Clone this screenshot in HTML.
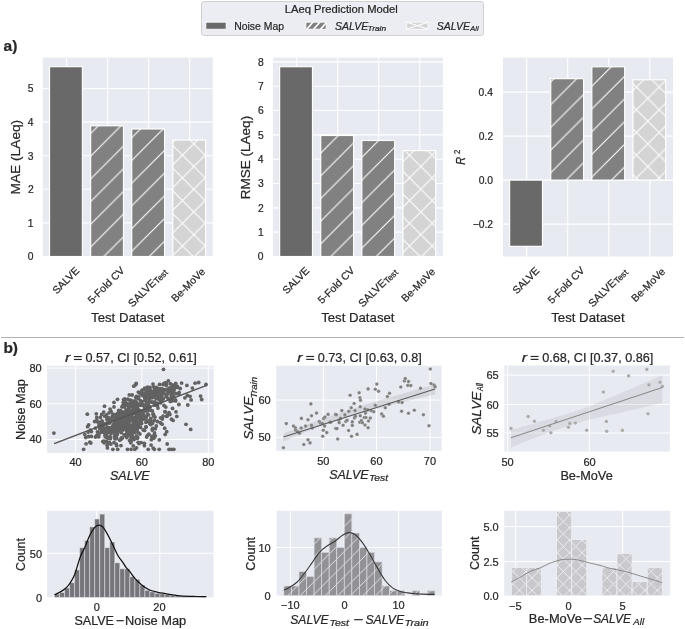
<!DOCTYPE html>
<html><head><meta charset="utf-8"><style>
html,body{margin:0;padding:0;background:#fff;}
svg{display:block;filter:blur(0.35px);}
text{font-family:"Liberation Sans",sans-serif;stroke:#2a2a2a;stroke-width:0.22px;}
</style></head><body>
<svg width="685" height="629" viewBox="0 0 685 629">
<defs><clipPath id="clipLeg2"><rect x="305.9" y="22.2" width="20.2" height="7.0"/></clipPath><pattern id="hA" patternUnits="userSpaceOnUse" width="22.7" height="22.7" x="19.8" y="0"><rect width="22.7" height="22.7" fill="#808180"/><path d="M-22.7,45.4 L45.4,-22.7 M-22.7,22.7 L22.7,-22.7 M0,45.4 L45.4,0" stroke="#fff" stroke-width="1.05"/></pattern><pattern id="hX" patternUnits="userSpaceOnUse" width="22.7" height="22.7" x="12.2" y="7.6"><rect width="22.7" height="22.7" fill="#D4D4D4"/><path d="M-22.7,45.4 L45.4,-22.7 M-22.7,22.7 L22.7,-22.7 M0,45.4 L45.4,0 M-22.7,-22.7 L45.4,45.4 M-22.7,0 L22.7,45.4 M0,-22.7 L45.4,22.7" stroke="#fff" stroke-width="1.05"/></pattern><clipPath id="cS1"><rect x="47.1" y="365.7" width="166.70000000000002" height="87.19999999999999"/></clipPath><pattern id="hB" patternUnits="userSpaceOnUse" width="12.55" height="12.55" x="4.8" y="0"><rect width="12.55" height="12.55" fill="#919196"/><path d="M-12.55,25.1 L25.1,-12.55 M-12.55,12.55 L12.55,-12.55 M0,25.1 L25.1,0" stroke="#E2E3E8" stroke-width="0.95"/></pattern><pattern id="hC" patternUnits="userSpaceOnUse" width="12.55" height="12.55" x="4.83" y="0.48"><rect width="12.55" height="12.55" fill="#C8C8CD"/><path d="M-12.55,25.1 L25.1,-12.55 M-12.55,12.55 L12.55,-12.55 M0,25.1 L25.1,0 M-12.55,-12.55 L25.1,25.1 M-12.55,0 L12.55,25.1 M0,-12.55 L25.1,12.55" stroke="#EEEFF3" stroke-width="0.95"/></pattern></defs>
<rect width="685" height="629" fill="#fff"/>
<rect x="201.5" y="1.5" width="282" height="34" rx="2.5" fill="#ECEDF2" stroke="#D0D0D0" stroke-width="1"/>
<text x="284.70" y="13.40" font-size="10.90" fill="#262626" textLength="113.05" lengthAdjust="spacingAndGlyphs">LAeq Prediction Model</text>
<rect x="205.9" y="22.2" width="20.2" height="7.0" fill="#686968" stroke="#fff" stroke-width="0.8"/>
<text x="234.16" y="29.70" font-size="10.90" fill="#262626" textLength="49.95" lengthAdjust="spacingAndGlyphs">Noise Map</text>
<rect x="305.9" y="22.2" width="20.2" height="7.0" fill="#808180" stroke="#fff" stroke-width="0.8"/>
<g clip-path="url(#clipLeg2)" stroke="#fff" stroke-width="1.6"><line x1="292.2" y1="30" x2="300.2" y2="21"/><line x1="299.1" y1="30" x2="307.1" y2="21"/><line x1="306.0" y1="30" x2="314.0" y2="21"/><line x1="312.9" y1="30" x2="320.9" y2="21"/><line x1="319.8" y1="30" x2="327.8" y2="21"/></g>
<rect x="406.8" y="22.2" width="21.2" height="7.0" fill="#D4D4D4" stroke="#fff" stroke-width="0.8"/>
<g stroke="#fff" stroke-width="1.2"><line x1="407" y1="22.3" x2="428" y2="29"/><line x1="407" y1="29" x2="428" y2="22.3"/></g>
<text x="334.99" y="29.50" font-size="11.00" font-style="italic" fill="#262626" textLength="33.25" lengthAdjust="spacingAndGlyphs">SALVE</text>
<text x="367.64" y="31.30" font-size="8.00" font-style="italic" fill="#262626" textLength="18.53" lengthAdjust="spacingAndGlyphs">Train</text>
<text x="436.69" y="29.50" font-size="11.00" font-style="italic" fill="#262626" textLength="33.25" lengthAdjust="spacingAndGlyphs">SALVE</text>
<text x="470.37" y="30.60" font-size="7.60" font-style="italic" fill="#262626" textLength="8.25" lengthAdjust="spacingAndGlyphs">All</text>
<rect x="42.8" y="57.6" width="170.00" height="198.90" fill="#E8EAF2"/>
<g stroke="#fff" stroke-width="1.1"><line x1="42.8" y1="256.50" x2="212.8" y2="256.50"/><line x1="42.8" y1="222.90" x2="212.8" y2="222.90"/><line x1="42.8" y1="189.30" x2="212.8" y2="189.30"/><line x1="42.8" y1="155.70" x2="212.8" y2="155.70"/><line x1="42.8" y1="122.10" x2="212.8" y2="122.10"/><line x1="42.8" y1="88.50" x2="212.8" y2="88.50"/><line x1="66.55" y1="57.6" x2="66.55" y2="256.5"/><line x1="107.60" y1="57.6" x2="107.60" y2="256.5"/><line x1="148.65" y1="57.6" x2="148.65" y2="256.5"/><line x1="189.70" y1="57.6" x2="189.70" y2="256.5"/></g>
<rect x="49.55" y="66.69" width="32.8" height="189.81" fill="#686968" stroke="#fff" stroke-width="1.15"/>
<rect x="90.65" y="125.80" width="32.8" height="130.70" fill="url(#hA)" stroke="#fff" stroke-width="1.15"/>
<rect x="131.75" y="128.99" width="32.8" height="127.51" fill="url(#hA)" stroke="#fff" stroke-width="1.15"/>
<rect x="172.85" y="140.08" width="32.8" height="116.42" fill="url(#hX)" stroke="#fff" stroke-width="1.15"/>
<text x="27.74" y="260.40" font-size="10.30" fill="#262626">0</text>
<text x="27.85" y="226.80" font-size="10.30" fill="#262626">1</text>
<text x="27.90" y="193.25" font-size="10.30" fill="#262626">2</text>
<text x="27.80" y="159.60" font-size="10.30" fill="#262626">3</text>
<text x="27.69" y="126.00" font-size="10.30" fill="#262626">4</text>
<text x="27.80" y="92.35" font-size="10.30" fill="#262626">5</text>
<text x="-16.41" y="3.59" font-size="10.40" fill="#262626" textLength="32.76" lengthAdjust="spacingAndGlyphs" transform="translate(65.75,280.40) rotate(-45)">SALVE</text>
<text x="-23.58" y="3.72" font-size="10.40" fill="#262626" textLength="46.82" lengthAdjust="spacingAndGlyphs" transform="translate(106.05,284.90) rotate(-45)">5-Fold CV</text>
<g transform="translate(148.05,287.60) rotate(-45)"><text x="-25.10" y="3.24" font-size="10.80" fill="#262626">SALVE</text><text x="8.92" y="4.24" font-size="8.60" fill="#262626">Test</text></g>
<text x="-21.55" y="3.54" font-size="10.40" fill="#262626" textLength="42.78" lengthAdjust="spacingAndGlyphs" transform="translate(188.25,284.85) rotate(-45)">Be-MoVe</text>
<text x="91.04" y="321.80" font-size="13.50" fill="#262626" textLength="73.37" lengthAdjust="spacingAndGlyphs">Test Dataset</text>
<rect x="272.9" y="57.6" width="170.00" height="198.90" fill="#E8EAF2"/>
<g stroke="#fff" stroke-width="1.1"><line x1="272.9" y1="256.50" x2="442.9" y2="256.50"/><line x1="272.9" y1="232.17" x2="442.9" y2="232.17"/><line x1="272.9" y1="207.84" x2="442.9" y2="207.84"/><line x1="272.9" y1="183.51" x2="442.9" y2="183.51"/><line x1="272.9" y1="159.18" x2="442.9" y2="159.18"/><line x1="272.9" y1="134.85" x2="442.9" y2="134.85"/><line x1="272.9" y1="110.52" x2="442.9" y2="110.52"/><line x1="272.9" y1="86.19" x2="442.9" y2="86.19"/><line x1="272.9" y1="61.86" x2="442.9" y2="61.86"/><line x1="296.65" y1="57.6" x2="296.65" y2="256.5"/><line x1="337.70" y1="57.6" x2="337.70" y2="256.5"/><line x1="378.75" y1="57.6" x2="378.75" y2="256.5"/><line x1="419.80" y1="57.6" x2="419.80" y2="256.5"/></g>
<rect x="279.65" y="66.73" width="32.8" height="189.77" fill="#686968" stroke="#fff" stroke-width="1.15"/>
<rect x="320.75" y="135.51" width="32.8" height="120.99" fill="url(#hA)" stroke="#fff" stroke-width="1.15"/>
<rect x="361.85" y="140.49" width="32.8" height="116.01" fill="url(#hA)" stroke="#fff" stroke-width="1.15"/>
<rect x="402.95" y="150.59" width="32.8" height="105.91" fill="url(#hX)" stroke="#fff" stroke-width="1.15"/>
<text x="257.84" y="260.40" font-size="10.30" fill="#262626">0</text>
<text x="257.95" y="236.07" font-size="10.30" fill="#262626">1</text>
<text x="258.00" y="211.79" font-size="10.30" fill="#262626">2</text>
<text x="257.90" y="187.41" font-size="10.30" fill="#262626">3</text>
<text x="257.79" y="163.08" font-size="10.30" fill="#262626">4</text>
<text x="257.90" y="138.70" font-size="10.30" fill="#262626">5</text>
<text x="257.90" y="114.42" font-size="10.30" fill="#262626">6</text>
<text x="258.00" y="90.09" font-size="10.30" fill="#262626">7</text>
<text x="257.90" y="65.76" font-size="10.30" fill="#262626">8</text>
<text x="-16.41" y="3.59" font-size="10.40" fill="#262626" textLength="32.76" lengthAdjust="spacingAndGlyphs" transform="translate(295.85,280.40) rotate(-45)">SALVE</text>
<text x="-23.58" y="3.72" font-size="10.40" fill="#262626" textLength="46.82" lengthAdjust="spacingAndGlyphs" transform="translate(336.15,284.90) rotate(-45)">5-Fold CV</text>
<g transform="translate(378.15,287.60) rotate(-45)"><text x="-25.10" y="3.24" font-size="10.80" fill="#262626">SALVE</text><text x="8.92" y="4.24" font-size="8.60" fill="#262626">Test</text></g>
<text x="-21.55" y="3.54" font-size="10.40" fill="#262626" textLength="42.78" lengthAdjust="spacingAndGlyphs" transform="translate(418.35,284.85) rotate(-45)">Be-MoVe</text>
<text x="321.14" y="321.80" font-size="13.50" fill="#262626" textLength="73.37" lengthAdjust="spacingAndGlyphs">Test Dataset</text>
<rect x="502.9" y="57.6" width="170.20" height="198.90" fill="#E8EAF2"/>
<g stroke="#fff" stroke-width="1.1"><line x1="502.9" y1="224.10" x2="673.1" y2="224.10"/><line x1="502.9" y1="180.10" x2="673.1" y2="180.10"/><line x1="502.9" y1="136.10" x2="673.1" y2="136.10"/><line x1="502.9" y1="92.10" x2="673.1" y2="92.10"/><line x1="526.65" y1="57.6" x2="526.65" y2="256.5"/><line x1="567.70" y1="57.6" x2="567.70" y2="256.5"/><line x1="608.75" y1="57.6" x2="608.75" y2="256.5"/><line x1="649.80" y1="57.6" x2="649.80" y2="256.5"/></g>
<rect x="509.65" y="180.10" width="32.8" height="66.22" fill="#686968" stroke="#fff" stroke-width="1.15"/>
<rect x="550.75" y="78.68" width="32.8" height="101.42" fill="url(#hA)" stroke="#fff" stroke-width="1.15"/>
<rect x="591.85" y="66.80" width="32.8" height="113.30" fill="url(#hA)" stroke="#fff" stroke-width="1.15"/>
<rect x="632.95" y="79.78" width="32.8" height="100.32" fill="url(#hX)" stroke="#fff" stroke-width="1.15"/>
<text x="472.77" y="228.00" font-size="10.30" fill="#262626">−0.2</text>
<text x="478.64" y="184.00" font-size="10.30" fill="#262626">0.0</text>
<text x="478.80" y="140.00" font-size="10.30" fill="#262626">0.2</text>
<text x="478.59" y="96.00" font-size="10.30" fill="#262626">0.4</text>
<text x="-16.41" y="3.59" font-size="10.40" fill="#262626" textLength="32.76" lengthAdjust="spacingAndGlyphs" transform="translate(525.85,280.40) rotate(-45)">SALVE</text>
<text x="-23.58" y="3.72" font-size="10.40" fill="#262626" textLength="46.82" lengthAdjust="spacingAndGlyphs" transform="translate(566.15,284.90) rotate(-45)">5-Fold CV</text>
<g transform="translate(608.15,287.60) rotate(-45)"><text x="-25.10" y="3.24" font-size="10.80" fill="#262626">SALVE</text><text x="8.92" y="4.24" font-size="8.60" fill="#262626">Test</text></g>
<text x="-21.55" y="3.54" font-size="10.40" fill="#262626" textLength="42.78" lengthAdjust="spacingAndGlyphs" transform="translate(648.35,284.85) rotate(-45)">Be-MoVe</text>
<text x="551.24" y="321.80" font-size="13.50" fill="#262626" textLength="73.37" lengthAdjust="spacingAndGlyphs">Test Dataset</text>
<text x="-37.44" y="3.53" font-size="13.70" fill="#262626" textLength="74.62" lengthAdjust="spacingAndGlyphs" transform="translate(16.90,157.00) rotate(-90)">MAE (LAeq)</text>
<text x="-41.75" y="3.48" font-size="13.50" fill="#262626" textLength="83.28" lengthAdjust="spacingAndGlyphs" transform="translate(247.00,157.40) rotate(-90)">RMSE (LAeq)</text>
<g transform="rotate(-90)"><text x="-164.63" y="465.10" font-size="12.40" font-style="italic" fill="#262626" textLength="7.88" lengthAdjust="spacingAndGlyphs">R</text><text x="-154.08" y="459.70" font-size="9.00" fill="#262626" textLength="4.28" lengthAdjust="spacingAndGlyphs">2</text></g>
<text x="3.54" y="51.10" font-size="15.50" font-weight="bold" fill="#262626">a)</text>
<line x1="1" y1="337.5" x2="684" y2="337.5" stroke="#b2b2b2" stroke-width="1.1"/>
<text x="3.39" y="352.90" font-size="15.50" font-weight="bold" fill="#262626">b)</text>
<rect x="47.1" y="365.7" width="166.70" height="87.20" fill="#E8EAF2"/>
<g stroke="#fff" stroke-width="1"><line x1="75.50" y1="365.7" x2="75.50" y2="452.9"/><line x1="141.90" y1="365.7" x2="141.90" y2="452.9"/><line x1="208.30" y1="365.7" x2="208.30" y2="452.9"/><line x1="47.1" y1="439.50" x2="213.8" y2="439.50"/><line x1="47.1" y1="403.80" x2="213.8" y2="403.80"/><line x1="47.1" y1="368.10" x2="213.8" y2="368.10"/></g>
<g clip-path="url(#cS1)" fill="#626262"><circle cx="112.2" cy="416.6" r="1.9"/><circle cx="117.4" cy="433.9" r="1.9"/><circle cx="133.3" cy="418.2" r="1.9"/><circle cx="119.9" cy="425.9" r="1.9"/><circle cx="134.8" cy="432.6" r="1.9"/><circle cx="110.0" cy="436.4" r="1.9"/><circle cx="119.5" cy="427.3" r="1.9"/><circle cx="124.9" cy="414.7" r="1.9"/><circle cx="118.7" cy="429.0" r="1.9"/><circle cx="120.5" cy="416.4" r="1.9"/><circle cx="148.5" cy="414.9" r="1.9"/><circle cx="127.5" cy="425.8" r="1.9"/><circle cx="152.8" cy="402.2" r="1.9"/><circle cx="141.3" cy="418.2" r="1.9"/><circle cx="140.4" cy="404.3" r="1.9"/><circle cx="118.2" cy="429.8" r="1.9"/><circle cx="129.4" cy="411.1" r="1.9"/><circle cx="120.7" cy="428.1" r="1.9"/><circle cx="109.9" cy="422.7" r="1.9"/><circle cx="135.0" cy="419.9" r="1.9"/><circle cx="119.4" cy="422.8" r="1.9"/><circle cx="125.9" cy="434.7" r="1.9"/><circle cx="140.0" cy="415.3" r="1.9"/><circle cx="142.1" cy="401.6" r="1.9"/><circle cx="126.7" cy="427.3" r="1.9"/><circle cx="103.3" cy="432.0" r="1.9"/><circle cx="115.1" cy="425.3" r="1.9"/><circle cx="127.8" cy="433.4" r="1.9"/><circle cx="113.3" cy="424.6" r="1.9"/><circle cx="140.4" cy="400.6" r="1.9"/><circle cx="120.6" cy="415.2" r="1.9"/><circle cx="130.0" cy="415.4" r="1.9"/><circle cx="129.9" cy="425.8" r="1.9"/><circle cx="120.1" cy="426.4" r="1.9"/><circle cx="125.1" cy="426.4" r="1.9"/><circle cx="108.4" cy="429.5" r="1.9"/><circle cx="121.2" cy="416.3" r="1.9"/><circle cx="95.5" cy="428.1" r="1.9"/><circle cx="133.3" cy="401.2" r="1.9"/><circle cx="121.4" cy="424.9" r="1.9"/><circle cx="124.0" cy="406.0" r="1.9"/><circle cx="133.1" cy="405.3" r="1.9"/><circle cx="126.8" cy="437.7" r="1.9"/><circle cx="140.7" cy="420.3" r="1.9"/><circle cx="108.6" cy="418.3" r="1.9"/><circle cx="121.0" cy="445.6" r="1.9"/><circle cx="124.7" cy="412.0" r="1.9"/><circle cx="105.0" cy="435.1" r="1.9"/><circle cx="130.3" cy="411.3" r="1.9"/><circle cx="127.4" cy="420.2" r="1.9"/><circle cx="129.3" cy="411.2" r="1.9"/><circle cx="123.0" cy="423.3" r="1.9"/><circle cx="139.6" cy="421.0" r="1.9"/><circle cx="119.1" cy="411.6" r="1.9"/><circle cx="140.7" cy="421.8" r="1.9"/><circle cx="106.5" cy="432.3" r="1.9"/><circle cx="102.9" cy="441.5" r="1.9"/><circle cx="143.6" cy="419.0" r="1.9"/><circle cx="87.6" cy="426.7" r="1.9"/><circle cx="139.8" cy="413.1" r="1.9"/><circle cx="126.9" cy="428.3" r="1.9"/><circle cx="131.4" cy="418.0" r="1.9"/><circle cx="113.1" cy="418.9" r="1.9"/><circle cx="116.5" cy="417.6" r="1.9"/><circle cx="126.6" cy="414.6" r="1.9"/><circle cx="161.0" cy="401.6" r="1.9"/><circle cx="122.6" cy="429.7" r="1.9"/><circle cx="114.2" cy="424.4" r="1.9"/><circle cx="104.0" cy="431.4" r="1.9"/><circle cx="115.8" cy="430.7" r="1.9"/><circle cx="139.4" cy="414.6" r="1.9"/><circle cx="140.9" cy="417.9" r="1.9"/><circle cx="131.8" cy="414.4" r="1.9"/><circle cx="125.9" cy="423.4" r="1.9"/><circle cx="145.9" cy="400.1" r="1.9"/><circle cx="112.8" cy="419.3" r="1.9"/><circle cx="125.3" cy="427.6" r="1.9"/><circle cx="114.0" cy="406.9" r="1.9"/><circle cx="100.4" cy="422.8" r="1.9"/><circle cx="110.9" cy="444.1" r="1.9"/><circle cx="117.0" cy="422.6" r="1.9"/><circle cx="114.4" cy="424.2" r="1.9"/><circle cx="121.6" cy="421.5" r="1.9"/><circle cx="142.4" cy="404.7" r="1.9"/><circle cx="131.9" cy="411.8" r="1.9"/><circle cx="124.4" cy="413.4" r="1.9"/><circle cx="113.9" cy="427.5" r="1.9"/><circle cx="121.2" cy="422.9" r="1.9"/><circle cx="131.5" cy="415.7" r="1.9"/><circle cx="126.8" cy="413.7" r="1.9"/><circle cx="119.7" cy="418.4" r="1.9"/><circle cx="130.8" cy="403.7" r="1.9"/><circle cx="140.1" cy="413.9" r="1.9"/><circle cx="132.6" cy="419.3" r="1.9"/><circle cx="127.6" cy="424.4" r="1.9"/><circle cx="144.3" cy="411.1" r="1.9"/><circle cx="111.3" cy="433.3" r="1.9"/><circle cx="137.3" cy="407.7" r="1.9"/><circle cx="124.7" cy="398.9" r="1.9"/><circle cx="136.6" cy="402.8" r="1.9"/><circle cx="133.2" cy="429.4" r="1.9"/><circle cx="112.9" cy="420.3" r="1.9"/><circle cx="118.0" cy="424.0" r="1.9"/><circle cx="114.0" cy="429.3" r="1.9"/><circle cx="123.0" cy="423.7" r="1.9"/><circle cx="127.5" cy="429.0" r="1.9"/><circle cx="121.8" cy="429.4" r="1.9"/><circle cx="133.2" cy="407.6" r="1.9"/><circle cx="98.8" cy="434.8" r="1.9"/><circle cx="124.1" cy="412.6" r="1.9"/><circle cx="131.2" cy="415.5" r="1.9"/><circle cx="146.0" cy="427.0" r="1.9"/><circle cx="132.9" cy="424.6" r="1.9"/><circle cx="146.3" cy="416.6" r="1.9"/><circle cx="149.8" cy="406.7" r="1.9"/><circle cx="101.2" cy="423.9" r="1.9"/><circle cx="115.4" cy="416.7" r="1.9"/><circle cx="145.9" cy="422.3" r="1.9"/><circle cx="119.6" cy="420.2" r="1.9"/><circle cx="126.9" cy="414.6" r="1.9"/><circle cx="127.4" cy="428.1" r="1.9"/><circle cx="142.7" cy="405.2" r="1.9"/><circle cx="130.8" cy="418.6" r="1.9"/><circle cx="99.0" cy="425.4" r="1.9"/><circle cx="123.1" cy="413.7" r="1.9"/><circle cx="108.9" cy="427.7" r="1.9"/><circle cx="118.1" cy="431.8" r="1.9"/><circle cx="98.7" cy="422.1" r="1.9"/><circle cx="122.8" cy="429.9" r="1.9"/><circle cx="107.2" cy="422.8" r="1.9"/><circle cx="126.7" cy="425.2" r="1.9"/><circle cx="121.0" cy="439.2" r="1.9"/><circle cx="120.2" cy="425.1" r="1.9"/><circle cx="126.3" cy="404.2" r="1.9"/><circle cx="132.6" cy="426.6" r="1.9"/><circle cx="123.1" cy="427.3" r="1.9"/><circle cx="151.4" cy="402.0" r="1.9"/><circle cx="116.6" cy="420.9" r="1.9"/><circle cx="123.2" cy="421.5" r="1.9"/><circle cx="122.4" cy="425.3" r="1.9"/><circle cx="111.7" cy="431.7" r="1.9"/><circle cx="117.2" cy="421.5" r="1.9"/><circle cx="142.9" cy="410.8" r="1.9"/><circle cx="106.3" cy="434.8" r="1.9"/><circle cx="125.0" cy="416.0" r="1.9"/><circle cx="127.7" cy="414.1" r="1.9"/><circle cx="129.6" cy="412.2" r="1.9"/><circle cx="129.2" cy="399.9" r="1.9"/><circle cx="145.4" cy="418.8" r="1.9"/><circle cx="131.1" cy="418.5" r="1.9"/><circle cx="134.4" cy="424.5" r="1.9"/><circle cx="87.3" cy="414.2" r="1.9"/><circle cx="135.4" cy="405.7" r="1.9"/><circle cx="126.7" cy="416.1" r="1.9"/><circle cx="154.8" cy="404.2" r="1.9"/><circle cx="120.9" cy="424.7" r="1.9"/><circle cx="114.9" cy="438.7" r="1.9"/><circle cx="96.3" cy="413.8" r="1.9"/><circle cx="141.7" cy="414.4" r="1.9"/><circle cx="126.1" cy="419.6" r="1.9"/><circle cx="115.3" cy="428.3" r="1.9"/><circle cx="131.2" cy="411.5" r="1.9"/><circle cx="86.1" cy="443.8" r="1.9"/><circle cx="155.4" cy="391.4" r="1.9"/><circle cx="128.5" cy="409.1" r="1.9"/><circle cx="109.0" cy="412.9" r="1.9"/><circle cx="107.3" cy="427.1" r="1.9"/><circle cx="123.7" cy="421.9" r="1.9"/><circle cx="109.7" cy="419.9" r="1.9"/><circle cx="123.0" cy="426.4" r="1.9"/><circle cx="110.3" cy="432.6" r="1.9"/><circle cx="133.5" cy="421.2" r="1.9"/><circle cx="137.1" cy="415.7" r="1.9"/><circle cx="144.7" cy="388.2" r="1.9"/><circle cx="121.4" cy="426.3" r="1.9"/><circle cx="110.4" cy="429.5" r="1.9"/><circle cx="144.6" cy="430.4" r="1.9"/><circle cx="122.7" cy="416.0" r="1.9"/><circle cx="91.4" cy="431.6" r="1.9"/><circle cx="121.4" cy="437.8" r="1.9"/><circle cx="142.7" cy="395.5" r="1.9"/><circle cx="116.0" cy="417.6" r="1.9"/><circle cx="124.6" cy="418.0" r="1.9"/><circle cx="136.6" cy="403.1" r="1.9"/><circle cx="126.6" cy="414.3" r="1.9"/><circle cx="121.6" cy="424.9" r="1.9"/><circle cx="122.1" cy="423.2" r="1.9"/><circle cx="112.8" cy="426.4" r="1.9"/><circle cx="136.5" cy="415.8" r="1.9"/><circle cx="108.2" cy="438.2" r="1.9"/><circle cx="111.4" cy="429.1" r="1.9"/><circle cx="138.1" cy="416.0" r="1.9"/><circle cx="121.7" cy="420.4" r="1.9"/><circle cx="130.8" cy="429.6" r="1.9"/><circle cx="132.3" cy="414.0" r="1.9"/><circle cx="130.8" cy="442.8" r="1.9"/><circle cx="125.8" cy="425.9" r="1.9"/><circle cx="125.4" cy="425.7" r="1.9"/><circle cx="106.9" cy="419.4" r="1.9"/><circle cx="117.6" cy="422.4" r="1.9"/><circle cx="128.4" cy="425.8" r="1.9"/><circle cx="121.6" cy="426.1" r="1.9"/><circle cx="134.1" cy="411.6" r="1.9"/><circle cx="120.6" cy="415.5" r="1.9"/><circle cx="130.7" cy="420.8" r="1.9"/><circle cx="101.0" cy="432.3" r="1.9"/><circle cx="106.5" cy="431.4" r="1.9"/><circle cx="130.3" cy="419.9" r="1.9"/><circle cx="119.3" cy="414.4" r="1.9"/><circle cx="138.0" cy="425.0" r="1.9"/><circle cx="138.9" cy="423.3" r="1.9"/><circle cx="134.8" cy="424.8" r="1.9"/><circle cx="137.3" cy="406.4" r="1.9"/><circle cx="141.6" cy="423.5" r="1.9"/><circle cx="97.4" cy="421.8" r="1.9"/><circle cx="123.6" cy="399.6" r="1.9"/><circle cx="137.0" cy="414.1" r="1.9"/><circle cx="140.6" cy="421.9" r="1.9"/><circle cx="107.2" cy="432.0" r="1.9"/><circle cx="135.7" cy="412.8" r="1.9"/><circle cx="144.2" cy="405.1" r="1.9"/><circle cx="131.6" cy="434.2" r="1.9"/><circle cx="128.4" cy="414.9" r="1.9"/><circle cx="101.8" cy="427.1" r="1.9"/><circle cx="136.9" cy="417.1" r="1.9"/><circle cx="124.0" cy="425.5" r="1.9"/><circle cx="118.4" cy="413.7" r="1.9"/><circle cx="105.3" cy="436.7" r="1.9"/><circle cx="122.0" cy="416.3" r="1.9"/><circle cx="145.0" cy="400.4" r="1.9"/><circle cx="114.0" cy="402.4" r="1.9"/><circle cx="116.5" cy="426.9" r="1.9"/><circle cx="150.8" cy="424.6" r="1.9"/><circle cx="102.7" cy="422.9" r="1.9"/><circle cx="126.5" cy="410.5" r="1.9"/><circle cx="132.3" cy="431.5" r="1.9"/><circle cx="103.0" cy="425.9" r="1.9"/><circle cx="123.5" cy="422.4" r="1.9"/><circle cx="131.5" cy="432.2" r="1.9"/><circle cx="114.5" cy="418.0" r="1.9"/><circle cx="128.9" cy="404.3" r="1.9"/><circle cx="149.1" cy="421.1" r="1.9"/><circle cx="135.5" cy="421.4" r="1.9"/><circle cx="132.9" cy="426.3" r="1.9"/><circle cx="121.3" cy="432.7" r="1.9"/><circle cx="127.2" cy="425.2" r="1.9"/><circle cx="117.5" cy="413.3" r="1.9"/><circle cx="126.8" cy="423.2" r="1.9"/><circle cx="127.4" cy="403.8" r="1.9"/><circle cx="120.8" cy="428.3" r="1.9"/><circle cx="132.4" cy="425.2" r="1.9"/><circle cx="143.5" cy="411.6" r="1.9"/><circle cx="118.9" cy="422.7" r="1.9"/><circle cx="126.1" cy="410.2" r="1.9"/><circle cx="115.6" cy="427.5" r="1.9"/><circle cx="117.2" cy="431.4" r="1.9"/><circle cx="122.1" cy="417.4" r="1.9"/><circle cx="118.2" cy="417.4" r="1.9"/><circle cx="125.0" cy="403.0" r="1.9"/><circle cx="134.9" cy="412.2" r="1.9"/><circle cx="134.0" cy="404.0" r="1.9"/><circle cx="102.1" cy="430.2" r="1.9"/><circle cx="131.2" cy="432.7" r="1.9"/><circle cx="137.7" cy="413.0" r="1.9"/><circle cx="124.5" cy="407.1" r="1.9"/><circle cx="123.6" cy="421.8" r="1.9"/><circle cx="129.1" cy="427.5" r="1.9"/><circle cx="142.9" cy="412.8" r="1.9"/><circle cx="117.0" cy="424.1" r="1.9"/><circle cx="109.2" cy="422.9" r="1.9"/><circle cx="144.6" cy="407.3" r="1.9"/><circle cx="136.4" cy="425.0" r="1.9"/><circle cx="121.3" cy="411.6" r="1.9"/><circle cx="103.8" cy="428.4" r="1.9"/><circle cx="126.8" cy="420.9" r="1.9"/><circle cx="117.6" cy="432.1" r="1.9"/><circle cx="109.4" cy="419.8" r="1.9"/><circle cx="134.8" cy="417.7" r="1.9"/><circle cx="119.8" cy="418.2" r="1.9"/><circle cx="118.8" cy="424.4" r="1.9"/><circle cx="134.5" cy="429.9" r="1.9"/><circle cx="132.7" cy="410.5" r="1.9"/><circle cx="147.4" cy="413.9" r="1.9"/><circle cx="146.4" cy="409.8" r="1.9"/><circle cx="136.7" cy="420.8" r="1.9"/><circle cx="107.0" cy="417.7" r="1.9"/><circle cx="114.9" cy="414.9" r="1.9"/><circle cx="132.8" cy="425.9" r="1.9"/><circle cx="137.1" cy="419.9" r="1.9"/><circle cx="128.1" cy="430.9" r="1.9"/><circle cx="106.2" cy="432.0" r="1.9"/><circle cx="138.9" cy="396.8" r="1.9"/><circle cx="116.6" cy="438.1" r="1.9"/><circle cx="131.9" cy="434.9" r="1.9"/><circle cx="138.2" cy="427.0" r="1.9"/><circle cx="137.0" cy="429.7" r="1.9"/><circle cx="148.9" cy="391.5" r="1.9"/><circle cx="107.2" cy="445.2" r="1.9"/><circle cx="115.7" cy="428.2" r="1.9"/><circle cx="122.9" cy="414.9" r="1.9"/><circle cx="119.8" cy="440.2" r="1.9"/><circle cx="116.2" cy="424.8" r="1.9"/><circle cx="125.0" cy="400.7" r="1.9"/><circle cx="114.0" cy="442.6" r="1.9"/><circle cx="106.8" cy="437.7" r="1.9"/><circle cx="112.9" cy="414.1" r="1.9"/><circle cx="119.9" cy="421.4" r="1.9"/><circle cx="97.6" cy="432.1" r="1.9"/><circle cx="129.1" cy="432.9" r="1.9"/><circle cx="131.1" cy="400.5" r="1.9"/><circle cx="133.5" cy="409.9" r="1.9"/><circle cx="138.1" cy="409.2" r="1.9"/><circle cx="123.3" cy="402.2" r="1.9"/><circle cx="137.0" cy="409.6" r="1.9"/><circle cx="116.0" cy="414.7" r="1.9"/><circle cx="140.3" cy="405.2" r="1.9"/><circle cx="122.5" cy="416.3" r="1.9"/><circle cx="124.7" cy="426.0" r="1.9"/><circle cx="126.3" cy="423.4" r="1.9"/><circle cx="121.4" cy="425.0" r="1.9"/><circle cx="132.3" cy="413.1" r="1.9"/><circle cx="100.4" cy="417.5" r="1.9"/><circle cx="127.5" cy="413.9" r="1.9"/><circle cx="129.6" cy="440.6" r="1.9"/><circle cx="154.4" cy="405.0" r="1.9"/><circle cx="103.7" cy="412.1" r="1.9"/><circle cx="110.0" cy="420.7" r="1.9"/><circle cx="150.6" cy="424.2" r="1.9"/><circle cx="139.7" cy="393.1" r="1.9"/><circle cx="135.5" cy="425.3" r="1.9"/><circle cx="128.1" cy="435.6" r="1.9"/><circle cx="100.0" cy="427.7" r="1.9"/><circle cx="143.6" cy="414.9" r="1.9"/><circle cx="126.8" cy="431.6" r="1.9"/><circle cx="127.5" cy="432.0" r="1.9"/><circle cx="116.1" cy="428.0" r="1.9"/><circle cx="138.1" cy="417.8" r="1.9"/><circle cx="140.5" cy="427.4" r="1.9"/><circle cx="131.9" cy="418.1" r="1.9"/><circle cx="130.0" cy="430.3" r="1.9"/><circle cx="110.5" cy="438.5" r="1.9"/><circle cx="124.1" cy="404.3" r="1.9"/><circle cx="109.8" cy="437.6" r="1.9"/><circle cx="134.4" cy="410.6" r="1.9"/><circle cx="135.4" cy="413.6" r="1.9"/><circle cx="105.5" cy="435.0" r="1.9"/><circle cx="120.6" cy="420.4" r="1.9"/><circle cx="118.0" cy="417.0" r="1.9"/><circle cx="119.6" cy="430.0" r="1.9"/><circle cx="101.7" cy="414.4" r="1.9"/><circle cx="122.7" cy="424.7" r="1.9"/><circle cx="104.0" cy="441.1" r="1.9"/><circle cx="130.4" cy="406.7" r="1.9"/><circle cx="139.3" cy="411.9" r="1.9"/><circle cx="123.1" cy="423.6" r="1.9"/><circle cx="138.4" cy="413.4" r="1.9"/><circle cx="120.6" cy="410.6" r="1.9"/><circle cx="138.1" cy="413.9" r="1.9"/><circle cx="109.4" cy="442.5" r="1.9"/><circle cx="97.6" cy="431.8" r="1.9"/><circle cx="140.1" cy="422.1" r="1.9"/><circle cx="114.3" cy="422.7" r="1.9"/><circle cx="114.6" cy="429.7" r="1.9"/><circle cx="99.8" cy="428.6" r="1.9"/><circle cx="122.9" cy="405.1" r="1.9"/><circle cx="128.8" cy="423.2" r="1.9"/><circle cx="111.1" cy="411.5" r="1.9"/><circle cx="131.8" cy="434.9" r="1.9"/><circle cx="125.7" cy="421.1" r="1.9"/><circle cx="131.9" cy="419.4" r="1.9"/><circle cx="132.3" cy="402.4" r="1.9"/><circle cx="138.5" cy="411.1" r="1.9"/><circle cx="138.3" cy="415.6" r="1.9"/><circle cx="114.0" cy="426.5" r="1.9"/><circle cx="141.1" cy="415.4" r="1.9"/><circle cx="121.1" cy="412.4" r="1.9"/><circle cx="121.8" cy="420.5" r="1.9"/><circle cx="131.1" cy="417.2" r="1.9"/><circle cx="140.3" cy="427.1" r="1.9"/><circle cx="116.0" cy="438.7" r="1.9"/><circle cx="118.7" cy="410.4" r="1.9"/><circle cx="122.6" cy="422.1" r="1.9"/><circle cx="145.9" cy="418.0" r="1.9"/><circle cx="112.2" cy="418.6" r="1.9"/><circle cx="121.9" cy="406.9" r="1.9"/><circle cx="143.8" cy="410.2" r="1.9"/><circle cx="120.1" cy="425.1" r="1.9"/><circle cx="125.1" cy="429.0" r="1.9"/><circle cx="153.4" cy="414.2" r="1.9"/><circle cx="147.8" cy="410.3" r="1.9"/><circle cx="137.2" cy="404.2" r="1.9"/><circle cx="150.7" cy="418.3" r="1.9"/><circle cx="107.4" cy="447.9" r="1.9"/><circle cx="126.7" cy="403.5" r="1.9"/><circle cx="124.0" cy="435.0" r="1.9"/><circle cx="149.9" cy="407.3" r="1.9"/><circle cx="116.5" cy="432.4" r="1.9"/><circle cx="133.9" cy="411.6" r="1.9"/><circle cx="125.8" cy="436.1" r="1.9"/><circle cx="142.2" cy="419.6" r="1.9"/><circle cx="85.8" cy="437.5" r="1.9"/><circle cx="116.7" cy="430.1" r="1.9"/><circle cx="138.1" cy="432.4" r="1.9"/><circle cx="134.9" cy="426.3" r="1.9"/><circle cx="145.6" cy="408.0" r="1.9"/><circle cx="123.6" cy="414.7" r="1.9"/><circle cx="115.6" cy="426.4" r="1.9"/><circle cx="128.8" cy="408.3" r="1.9"/><circle cx="115.5" cy="415.4" r="1.9"/><circle cx="160.6" cy="417.8" r="1.9"/><circle cx="110.1" cy="409.1" r="1.9"/><circle cx="122.3" cy="425.3" r="1.9"/><circle cx="111.5" cy="427.7" r="1.9"/><circle cx="156.1" cy="398.6" r="1.9"/><circle cx="156.3" cy="393.4" r="1.9"/><circle cx="173.6" cy="395.9" r="1.9"/><circle cx="150.6" cy="390.3" r="1.9"/><circle cx="147.3" cy="395.0" r="1.9"/><circle cx="135.7" cy="384.7" r="1.9"/><circle cx="148.6" cy="390.5" r="1.9"/><circle cx="133.9" cy="403.6" r="1.9"/><circle cx="148.5" cy="390.6" r="1.9"/><circle cx="135.6" cy="401.0" r="1.9"/><circle cx="153.4" cy="395.4" r="1.9"/><circle cx="166.3" cy="383.7" r="1.9"/><circle cx="172.6" cy="400.6" r="1.9"/><circle cx="171.3" cy="401.1" r="1.9"/><circle cx="170.8" cy="388.8" r="1.9"/><circle cx="163.0" cy="384.5" r="1.9"/><circle cx="174.9" cy="385.4" r="1.9"/><circle cx="142.1" cy="390.1" r="1.9"/><circle cx="145.4" cy="397.6" r="1.9"/><circle cx="157.7" cy="394.7" r="1.9"/><circle cx="148.4" cy="402.7" r="1.9"/><circle cx="152.5" cy="397.0" r="1.9"/><circle cx="157.0" cy="396.4" r="1.9"/><circle cx="136.0" cy="407.7" r="1.9"/><circle cx="153.4" cy="394.0" r="1.9"/><circle cx="147.9" cy="395.0" r="1.9"/><circle cx="146.7" cy="391.6" r="1.9"/><circle cx="176.9" cy="386.4" r="1.9"/><circle cx="172.1" cy="386.7" r="1.9"/><circle cx="179.1" cy="392.4" r="1.9"/><circle cx="150.1" cy="387.3" r="1.9"/><circle cx="149.2" cy="395.5" r="1.9"/><circle cx="146.9" cy="405.3" r="1.9"/><circle cx="186.9" cy="385.4" r="1.9"/><circle cx="153.8" cy="387.0" r="1.9"/><circle cx="140.2" cy="410.8" r="1.9"/><circle cx="117.5" cy="399.3" r="1.9"/><circle cx="145.5" cy="396.5" r="1.9"/><circle cx="127.7" cy="405.8" r="1.9"/><circle cx="163.2" cy="391.0" r="1.9"/><circle cx="172.2" cy="385.0" r="1.9"/><circle cx="157.5" cy="391.9" r="1.9"/><circle cx="160.5" cy="400.6" r="1.9"/><circle cx="148.4" cy="405.2" r="1.9"/><circle cx="157.4" cy="405.7" r="1.9"/><circle cx="158.9" cy="399.6" r="1.9"/><circle cx="161.9" cy="397.2" r="1.9"/><circle cx="192.4" cy="388.1" r="1.9"/><circle cx="153.4" cy="391.5" r="1.9"/><circle cx="190.0" cy="396.3" r="1.9"/><circle cx="170.4" cy="390.6" r="1.9"/><circle cx="171.2" cy="394.5" r="1.9"/><circle cx="141.5" cy="393.9" r="1.9"/><circle cx="155.0" cy="402.0" r="1.9"/><circle cx="158.5" cy="395.3" r="1.9"/><circle cx="170.3" cy="383.7" r="1.9"/><circle cx="160.2" cy="396.6" r="1.9"/><circle cx="135.8" cy="397.6" r="1.9"/><circle cx="139.9" cy="392.8" r="1.9"/><circle cx="157.4" cy="403.4" r="1.9"/><circle cx="156.6" cy="387.5" r="1.9"/><circle cx="167.5" cy="390.0" r="1.9"/><circle cx="144.1" cy="389.4" r="1.9"/><circle cx="136.4" cy="396.4" r="1.9"/><circle cx="154.7" cy="388.9" r="1.9"/><circle cx="152.7" cy="397.4" r="1.9"/><circle cx="138.3" cy="398.6" r="1.9"/><circle cx="159.5" cy="384.4" r="1.9"/><circle cx="157.6" cy="390.0" r="1.9"/><circle cx="177.3" cy="386.4" r="1.9"/><circle cx="176.2" cy="393.7" r="1.9"/><circle cx="168.3" cy="380.8" r="1.9"/><circle cx="158.6" cy="392.1" r="1.9"/><circle cx="145.4" cy="400.1" r="1.9"/><circle cx="160.6" cy="402.8" r="1.9"/><circle cx="158.5" cy="396.9" r="1.9"/><circle cx="151.0" cy="395.7" r="1.9"/><circle cx="187.3" cy="395.5" r="1.9"/><circle cx="166.2" cy="385.5" r="1.9"/><circle cx="150.5" cy="394.3" r="1.9"/><circle cx="200.6" cy="396.1" r="1.9"/><circle cx="168.2" cy="392.4" r="1.9"/><circle cx="163.6" cy="389.3" r="1.9"/><circle cx="168.1" cy="398.5" r="1.9"/><circle cx="168.4" cy="388.9" r="1.9"/><circle cx="158.0" cy="394.7" r="1.9"/><circle cx="132.0" cy="406.6" r="1.9"/><circle cx="163.3" cy="399.1" r="1.9"/><circle cx="159.5" cy="389.8" r="1.9"/><circle cx="152.4" cy="397.6" r="1.9"/><circle cx="153.2" cy="395.7" r="1.9"/><circle cx="201.7" cy="399.5" r="1.9"/><circle cx="124.5" cy="401.8" r="1.9"/><circle cx="170.3" cy="401.6" r="1.9"/><circle cx="165.6" cy="383.2" r="1.9"/><circle cx="195.1" cy="383.2" r="1.9"/><circle cx="146.8" cy="397.7" r="1.9"/><circle cx="150.0" cy="398.4" r="1.9"/><circle cx="135.4" cy="410.7" r="1.9"/><circle cx="173.6" cy="385.9" r="1.9"/><circle cx="141.1" cy="401.4" r="1.9"/><circle cx="148.9" cy="401.7" r="1.9"/><circle cx="164.2" cy="383.3" r="1.9"/><circle cx="129.3" cy="394.9" r="1.9"/><circle cx="171.3" cy="397.0" r="1.9"/><circle cx="174.4" cy="389.1" r="1.9"/><circle cx="148.0" cy="394.6" r="1.9"/><circle cx="175.0" cy="385.9" r="1.9"/><circle cx="157.7" cy="393.7" r="1.9"/><circle cx="160.1" cy="394.8" r="1.9"/><circle cx="150.3" cy="396.4" r="1.9"/><circle cx="160.1" cy="398.3" r="1.9"/><circle cx="154.4" cy="396.5" r="1.9"/><circle cx="181.6" cy="383.1" r="1.9"/><circle cx="155.9" cy="388.4" r="1.9"/><circle cx="161.1" cy="393.6" r="1.9"/><circle cx="156.0" cy="395.1" r="1.9"/><circle cx="175.5" cy="399.9" r="1.9"/><circle cx="145.8" cy="410.4" r="1.9"/><circle cx="158.6" cy="389.3" r="1.9"/><circle cx="150.2" cy="393.3" r="1.9"/><circle cx="140.9" cy="392.1" r="1.9"/><circle cx="136.2" cy="383.5" r="1.9"/><circle cx="169.6" cy="387.9" r="1.9"/><circle cx="166.5" cy="394.7" r="1.9"/><circle cx="145.6" cy="388.8" r="1.9"/><circle cx="171.8" cy="393.7" r="1.9"/><circle cx="146.0" cy="395.1" r="1.9"/><circle cx="127.7" cy="399.1" r="1.9"/><circle cx="157.8" cy="396.6" r="1.9"/><circle cx="157.0" cy="395.9" r="1.9"/><circle cx="175.4" cy="387.1" r="1.9"/><circle cx="162.2" cy="394.2" r="1.9"/><circle cx="153.0" cy="384.1" r="1.9"/><circle cx="143.9" cy="393.2" r="1.9"/><circle cx="172.6" cy="395.6" r="1.9"/><circle cx="160.4" cy="391.4" r="1.9"/><circle cx="164.0" cy="393.1" r="1.9"/><circle cx="144.7" cy="397.4" r="1.9"/><circle cx="173.4" cy="391.0" r="1.9"/><circle cx="165.5" cy="389.9" r="1.9"/><circle cx="174.1" cy="388.9" r="1.9"/><circle cx="149.7" cy="397.3" r="1.9"/><circle cx="173.8" cy="392.2" r="1.9"/><circle cx="153.9" cy="392.4" r="1.9"/><circle cx="149.1" cy="398.8" r="1.9"/><circle cx="165.7" cy="383.0" r="1.9"/><circle cx="152.2" cy="393.6" r="1.9"/><circle cx="161.3" cy="400.2" r="1.9"/><circle cx="160.8" cy="391.2" r="1.9"/><circle cx="145.3" cy="398.9" r="1.9"/><circle cx="198.7" cy="382.5" r="1.9"/><circle cx="145.9" cy="389.9" r="1.9"/><circle cx="133.8" cy="386.2" r="1.9"/><circle cx="132.2" cy="395.0" r="1.9"/><circle cx="155.7" cy="405.0" r="1.9"/><circle cx="144.2" cy="395.5" r="1.9"/><circle cx="161.3" cy="388.7" r="1.9"/><circle cx="156.3" cy="398.2" r="1.9"/><circle cx="161.7" cy="394.6" r="1.9"/><circle cx="158.4" cy="397.1" r="1.9"/><circle cx="164.0" cy="405.5" r="1.9"/><circle cx="172.8" cy="400.2" r="1.9"/><circle cx="161.2" cy="389.2" r="1.9"/><circle cx="158.9" cy="394.6" r="1.9"/><circle cx="147.6" cy="387.2" r="1.9"/><circle cx="166.5" cy="384.4" r="1.9"/><circle cx="180.2" cy="388.5" r="1.9"/><circle cx="161.9" cy="398.7" r="1.9"/><circle cx="151.3" cy="391.7" r="1.9"/><circle cx="173.8" cy="388.3" r="1.9"/><circle cx="175.6" cy="400.9" r="1.9"/><circle cx="165.9" cy="396.7" r="1.9"/><circle cx="147.5" cy="404.7" r="1.9"/><circle cx="140.8" cy="404.9" r="1.9"/><circle cx="131.0" cy="401.3" r="1.9"/><circle cx="147.7" cy="392.6" r="1.9"/><circle cx="138.3" cy="392.1" r="1.9"/><circle cx="139.2" cy="404.3" r="1.9"/><circle cx="191.1" cy="399.9" r="1.9"/><circle cx="158.4" cy="388.6" r="1.9"/><circle cx="153.1" cy="395.4" r="1.9"/><circle cx="166.9" cy="395.1" r="1.9"/><circle cx="159.5" cy="390.8" r="1.9"/><circle cx="175.7" cy="383.3" r="1.9"/><circle cx="177.6" cy="387.4" r="1.9"/><circle cx="168.7" cy="392.5" r="1.9"/><circle cx="178.9" cy="394.0" r="1.9"/><circle cx="137.1" cy="422.4" r="1.9"/><circle cx="148.2" cy="393.6" r="1.9"/><circle cx="146.0" cy="427.0" r="1.9"/><circle cx="114.3" cy="431.4" r="1.9"/><circle cx="160.2" cy="422.7" r="1.9"/><circle cx="155.2" cy="436.0" r="1.9"/><circle cx="154.5" cy="432.9" r="1.9"/><circle cx="163.1" cy="416.1" r="1.9"/><circle cx="143.4" cy="415.3" r="1.9"/><circle cx="147.6" cy="410.5" r="1.9"/><circle cx="166.7" cy="416.2" r="1.9"/><circle cx="133.7" cy="423.2" r="1.9"/><circle cx="136.5" cy="413.4" r="1.9"/><circle cx="136.7" cy="429.5" r="1.9"/><circle cx="152.3" cy="410.9" r="1.9"/><circle cx="167.2" cy="444.0" r="1.9"/><circle cx="184.9" cy="397.8" r="1.9"/><circle cx="156.3" cy="426.0" r="1.9"/><circle cx="169.9" cy="414.5" r="1.9"/><circle cx="136.8" cy="419.6" r="1.9"/><circle cx="165.2" cy="411.9" r="1.9"/><circle cx="148.9" cy="434.2" r="1.9"/><circle cx="155.0" cy="417.1" r="1.9"/><circle cx="168.2" cy="414.4" r="1.9"/><circle cx="153.1" cy="414.2" r="1.9"/><circle cx="165.2" cy="434.4" r="1.9"/><circle cx="187.8" cy="405.0" r="1.9"/><circle cx="154.4" cy="420.3" r="1.9"/><circle cx="178.9" cy="404.5" r="1.9"/><circle cx="166.8" cy="416.4" r="1.9"/><circle cx="164.7" cy="428.2" r="1.9"/><circle cx="152.5" cy="428.9" r="1.9"/><circle cx="147.2" cy="421.3" r="1.9"/><circle cx="141.2" cy="442.6" r="1.9"/><circle cx="153.9" cy="416.4" r="1.9"/><circle cx="162.1" cy="424.2" r="1.9"/><circle cx="169.0" cy="412.6" r="1.9"/><circle cx="155.3" cy="428.7" r="1.9"/><circle cx="140.3" cy="423.6" r="1.9"/><circle cx="153.3" cy="436.1" r="1.9"/><circle cx="190.7" cy="429.4" r="1.9"/><circle cx="151.2" cy="421.1" r="1.9"/><circle cx="186.0" cy="424.3" r="1.9"/><circle cx="152.2" cy="430.1" r="1.9"/><circle cx="152.8" cy="428.3" r="1.9"/><circle cx="173.1" cy="420.4" r="1.9"/><circle cx="154.6" cy="435.2" r="1.9"/><circle cx="146.4" cy="402.7" r="1.9"/><circle cx="140.2" cy="421.9" r="1.9"/><circle cx="153.2" cy="448.1" r="1.9"/><circle cx="147.1" cy="407.5" r="1.9"/><circle cx="159.3" cy="439.8" r="1.9"/><circle cx="171.5" cy="419.2" r="1.9"/><circle cx="150.4" cy="410.3" r="1.9"/><circle cx="125.0" cy="415.8" r="1.9"/><circle cx="158.0" cy="408.1" r="1.9"/><circle cx="172.5" cy="408.4" r="1.9"/><circle cx="152.4" cy="423.1" r="1.9"/><circle cx="120.6" cy="429.4" r="1.9"/><circle cx="157.4" cy="421.5" r="1.9"/><circle cx="166.7" cy="431.7" r="1.9"/><circle cx="162.4" cy="419.0" r="1.9"/><circle cx="125.6" cy="428.3" r="1.9"/><circle cx="165.0" cy="411.7" r="1.9"/><circle cx="147.9" cy="421.2" r="1.9"/><circle cx="152.6" cy="423.0" r="1.9"/><circle cx="121.5" cy="425.5" r="1.9"/><circle cx="130.1" cy="411.6" r="1.9"/><circle cx="149.8" cy="423.6" r="1.9"/><circle cx="128.1" cy="417.2" r="1.9"/><circle cx="165.8" cy="407.1" r="1.9"/><circle cx="176.0" cy="411.8" r="1.9"/><circle cx="102.9" cy="428.6" r="1.9"/><circle cx="176.8" cy="416.4" r="1.9"/><circle cx="146.1" cy="407.5" r="1.9"/><circle cx="105.8" cy="428.2" r="1.9"/><circle cx="89.8" cy="442.2" r="1.9"/><circle cx="115.1" cy="434.7" r="1.9"/><circle cx="115.0" cy="434.8" r="1.9"/><circle cx="88.7" cy="424.8" r="1.9"/><circle cx="104.5" cy="406.2" r="1.9"/><circle cx="121.7" cy="423.7" r="1.9"/><circle cx="90.4" cy="430.2" r="1.9"/><circle cx="108.8" cy="417.9" r="1.9"/><circle cx="88.7" cy="436.5" r="1.9"/><circle cx="110.7" cy="431.7" r="1.9"/><circle cx="108.4" cy="430.4" r="1.9"/><circle cx="122.2" cy="414.0" r="1.9"/><circle cx="121.0" cy="415.9" r="1.9"/><circle cx="107.8" cy="442.8" r="1.9"/><circle cx="104.0" cy="423.9" r="1.9"/><circle cx="84.8" cy="434.6" r="1.9"/><circle cx="98.7" cy="436.8" r="1.9"/><circle cx="91.3" cy="436.4" r="1.9"/><circle cx="107.1" cy="433.3" r="1.9"/><circle cx="101.1" cy="429.4" r="1.9"/><circle cx="106.5" cy="414.9" r="1.9"/><circle cx="96.8" cy="420.4" r="1.9"/><circle cx="106.2" cy="424.2" r="1.9"/><circle cx="100.3" cy="424.9" r="1.9"/><circle cx="96.6" cy="435.7" r="1.9"/><circle cx="111.0" cy="432.4" r="1.9"/><circle cx="96.8" cy="417.5" r="1.9"/><circle cx="102.1" cy="420.9" r="1.9"/><circle cx="101.4" cy="422.3" r="1.9"/><circle cx="106.5" cy="441.3" r="1.9"/><circle cx="94.7" cy="421.5" r="1.9"/><circle cx="90.8" cy="443.0" r="1.9"/><circle cx="95.4" cy="437.0" r="1.9"/><circle cx="119.6" cy="423.4" r="1.9"/><circle cx="114.6" cy="431.9" r="1.9"/><circle cx="104.8" cy="416.2" r="1.9"/><circle cx="104.2" cy="442.8" r="1.9"/><circle cx="136.7" cy="426.9" r="1.9"/><circle cx="147.6" cy="435.3" r="1.9"/><circle cx="151.1" cy="445.1" r="1.9"/><circle cx="131.2" cy="440.9" r="1.9"/><circle cx="151.8" cy="436.4" r="1.9"/><circle cx="88.1" cy="432.1" r="1.9"/><circle cx="116.7" cy="435.3" r="1.9"/><circle cx="122.4" cy="438.1" r="1.9"/><circle cx="137.2" cy="438.4" r="1.9"/><circle cx="116.1" cy="431.9" r="1.9"/><circle cx="134.1" cy="439.5" r="1.9"/><circle cx="138.2" cy="442.3" r="1.9"/><circle cx="153.9" cy="438.2" r="1.9"/><circle cx="133.7" cy="437.6" r="1.9"/><circle cx="116.7" cy="445.7" r="1.9"/><circle cx="131.7" cy="437.5" r="1.9"/><circle cx="146.7" cy="437.0" r="1.9"/><circle cx="114.4" cy="436.6" r="1.9"/><circle cx="139.9" cy="434.0" r="1.9"/><circle cx="133.3" cy="445.9" r="1.9"/><circle cx="144.3" cy="443.3" r="1.9"/><circle cx="136.5" cy="447.8" r="1.9"/><circle cx="139.0" cy="443.6" r="1.9"/><circle cx="143.2" cy="430.0" r="1.9"/><circle cx="144.4" cy="445.7" r="1.9"/><circle cx="116.3" cy="444.1" r="1.9"/><circle cx="137.7" cy="437.6" r="1.9"/><circle cx="131.0" cy="437.8" r="1.9"/><circle cx="136.5" cy="435.9" r="1.9"/><circle cx="151.3" cy="439.7" r="1.9"/><circle cx="53.9" cy="433.1" r="1.9"/><circle cx="206.0" cy="384.5" r="1.9"/><circle cx="163.5" cy="369.3" r="1.9"/><circle cx="83.6" cy="449.3" r="1.9"/><circle cx="112.9" cy="449.3" r="1.9"/><circle cx="117.7" cy="449.3" r="1.9"/><circle cx="127.5" cy="449.3" r="1.9"/><circle cx="131.1" cy="449.3" r="1.9"/><circle cx="134.8" cy="449.3" r="1.9"/><circle cx="148.2" cy="449.3" r="1.9"/><circle cx="154.3" cy="449.3" r="1.9"/><circle cx="159.2" cy="449.3" r="1.9"/><circle cx="169.0" cy="449.3" r="1.9"/><circle cx="171.4" cy="449.3" r="1.9"/><circle cx="173.8" cy="449.3" r="1.9"/></g>
<path d="M54.2,442.8 L206.6,384.6 L206.6,386.0 L54.2,444.6 Z" fill="#646464" fill-opacity="0.15"/>
<line x1="54.2" y1="443.7" x2="206.6" y2="385.3" stroke="#555555" stroke-width="1.3"/>
<text x="29.38" y="443.30" font-size="11.00" fill="#262626">40</text>
<text x="29.38" y="407.60" font-size="11.00" fill="#262626">60</text>
<text x="29.38" y="371.90" font-size="11.00" fill="#262626">80</text>
<text x="69.48" y="466.30" font-size="11.00" fill="#262626">40</text>
<text x="135.71" y="466.30" font-size="11.00" fill="#262626">60</text>
<text x="202.14" y="466.30" font-size="11.00" fill="#262626">80</text>
<text x="110.02" y="480.00" font-size="12.80" font-style="italic" fill="#262626" textLength="39.70" lengthAdjust="spacingAndGlyphs">SALVE</text>
<g transform="rotate(-90)"><text x="-440.02" y="24.60" font-size="12.60" fill="#262626" textLength="60.93" lengthAdjust="spacingAndGlyphs">Noise Map</text></g>
<text x="65.06" y="361.90" font-size="12.20" font-style="italic" fill="#262626" textLength="5.33" lengthAdjust="spacingAndGlyphs">r</text><rect x="73.90" y="356.00" width="7.9" height="1.15" fill="#262626"/><rect x="73.90" y="358.90" width="7.9" height="1.15" fill="#262626"/><text x="85.49" y="361.90" font-size="12.10" fill="#262626" textLength="111.34" lengthAdjust="spacingAndGlyphs">0.57, CI [0.52, 0.61]</text>
<rect x="276.3" y="365.7" width="165.40" height="85.20" fill="#E8EAF2"/>
<g stroke="#fff" stroke-width="1"><line x1="323.30" y1="365.7" x2="323.30" y2="450.9"/><line x1="376.50" y1="365.7" x2="376.50" y2="450.9"/><line x1="430.00" y1="365.7" x2="430.00" y2="450.9"/><line x1="276.3" y1="437.40" x2="441.7" y2="437.40"/><line x1="276.3" y1="400.00" x2="441.7" y2="400.00"/></g>
<path d="M283.4,433.5 C320,420 350,408 435.1,384.6 L435.1,394.6 C350,414 320,426 283.4,441.5 Z" fill="#808080" fill-opacity="0.18"/>
<g fill="#808080" stroke="#fff" stroke-width="0.3" stroke-opacity="0.6"><circle cx="283.4" cy="447.7" r="1.8"/><circle cx="286.3" cy="423.6" r="1.8"/><circle cx="293.5" cy="426.1" r="1.8"/><circle cx="295.4" cy="427.8" r="1.8"/><circle cx="295.7" cy="430.2" r="1.8"/><circle cx="297.5" cy="431.5" r="1.8"/><circle cx="299.5" cy="433.3" r="1.8"/><circle cx="301.4" cy="418.4" r="1.8"/><circle cx="301.2" cy="428.0" r="1.8"/><circle cx="303.8" cy="444.5" r="1.8"/><circle cx="305.6" cy="426.1" r="1.8"/><circle cx="308.0" cy="419.7" r="1.8"/><circle cx="308.0" cy="439.8" r="1.8"/><circle cx="310.0" cy="442.9" r="1.8"/><circle cx="310.9" cy="403.9" r="1.8"/><circle cx="311.5" cy="415.8" r="1.8"/><circle cx="311.5" cy="425.4" r="1.8"/><circle cx="312.3" cy="428.0" r="1.8"/><circle cx="316.5" cy="413.1" r="1.8"/><circle cx="319.3" cy="421.5" r="1.8"/><circle cx="320.7" cy="423.2" r="1.8"/><circle cx="322.4" cy="423.6" r="1.8"/><circle cx="323.7" cy="418.4" r="1.8"/><circle cx="325.0" cy="417.1" r="1.8"/><circle cx="324.6" cy="426.1" r="1.8"/><circle cx="323.3" cy="430.2" r="1.8"/><circle cx="326.8" cy="432.6" r="1.8"/><circle cx="322.7" cy="436.3" r="1.8"/><circle cx="328.1" cy="414.4" r="1.8"/><circle cx="329.9" cy="422.3" r="1.8"/><circle cx="335.5" cy="414.4" r="1.8"/><circle cx="335.7" cy="428.5" r="1.8"/><circle cx="350.1" cy="395.2" r="1.8"/><circle cx="359.1" cy="392.8" r="1.8"/><circle cx="359.9" cy="397.8" r="1.8"/><circle cx="360.5" cy="400.3" r="1.8"/><circle cx="354.1" cy="403.5" r="1.8"/><circle cx="351.2" cy="407.7" r="1.8"/><circle cx="360.2" cy="406.8" r="1.8"/><circle cx="368.1" cy="388.9" r="1.8"/><circle cx="375.3" cy="389.2" r="1.8"/><circle cx="376.8" cy="384.1" r="1.8"/><circle cx="378.6" cy="391.3" r="1.8"/><circle cx="375.3" cy="405.3" r="1.8"/><circle cx="385.3" cy="407.7" r="1.8"/><circle cx="387.4" cy="396.5" r="1.8"/><circle cx="389.5" cy="393.3" r="1.8"/><circle cx="341.8" cy="410.6" r="1.8"/><circle cx="348.8" cy="411.2" r="1.8"/><circle cx="355.0" cy="410.6" r="1.8"/><circle cx="365.0" cy="409.0" r="1.8"/><circle cx="367.7" cy="409.9" r="1.8"/><circle cx="371.2" cy="410.8" r="1.8"/><circle cx="330.7" cy="422.3" r="1.8"/><circle cx="336.3" cy="414.7" r="1.8"/><circle cx="337.0" cy="428.6" r="1.8"/><circle cx="337.7" cy="439.0" r="1.8"/><circle cx="338.8" cy="420.6" r="1.8"/><circle cx="339.2" cy="422.8" r="1.8"/><circle cx="340.5" cy="418.4" r="1.8"/><circle cx="343.1" cy="425.2" r="1.8"/><circle cx="344.9" cy="414.9" r="1.8"/><circle cx="345.8" cy="421.5" r="1.8"/><circle cx="347.1" cy="420.3" r="1.8"/><circle cx="348.6" cy="430.5" r="1.8"/><circle cx="351.5" cy="436.3" r="1.8"/><circle cx="352.3" cy="421.9" r="1.8"/><circle cx="352.3" cy="425.4" r="1.8"/><circle cx="354.5" cy="418.0" r="1.8"/><circle cx="355.4" cy="416.2" r="1.8"/><circle cx="357.1" cy="434.4" r="1.8"/><circle cx="359.8" cy="422.3" r="1.8"/><circle cx="360.2" cy="415.8" r="1.8"/><circle cx="361.5" cy="420.6" r="1.8"/><circle cx="362.4" cy="422.8" r="1.8"/><circle cx="364.2" cy="417.5" r="1.8"/><circle cx="365.5" cy="413.1" r="1.8"/><circle cx="365.0" cy="425.0" r="1.8"/><circle cx="365.9" cy="417.5" r="1.8"/><circle cx="368.1" cy="427.8" r="1.8"/><circle cx="368.5" cy="421.0" r="1.8"/><circle cx="370.3" cy="418.0" r="1.8"/><circle cx="373.8" cy="411.8" r="1.8"/><circle cx="381.7" cy="414.0" r="1.8"/><circle cx="383.4" cy="416.2" r="1.8"/><circle cx="389.1" cy="404.2" r="1.8"/><circle cx="398.6" cy="401.9" r="1.8"/><circle cx="402.1" cy="402.6" r="1.8"/><circle cx="400.8" cy="387.0" r="1.8"/><circle cx="404.4" cy="381.0" r="1.8"/><circle cx="405.3" cy="378.6" r="1.8"/><circle cx="408.5" cy="381.5" r="1.8"/><circle cx="407.8" cy="385.4" r="1.8"/><circle cx="410.8" cy="385.6" r="1.8"/><circle cx="420.5" cy="388.2" r="1.8"/><circle cx="430.3" cy="369.0" r="1.8"/><circle cx="431.0" cy="383.6" r="1.8"/><circle cx="434.0" cy="385.0" r="1.8"/><circle cx="435.1" cy="386.7" r="1.8"/><circle cx="401.6" cy="411.2" r="1.8"/><circle cx="414.3" cy="410.3" r="1.8"/><circle cx="408.5" cy="413.3" r="1.8"/><circle cx="423.4" cy="414.7" r="1.8"/><circle cx="429.0" cy="425.7" r="1.8"/></g>
<line x1="283.4" y1="436.9" x2="435.1" y2="388.9" stroke="#5a5a5a" stroke-width="1.1"/>
<text x="258.48" y="441.19" font-size="11.00" fill="#262626">50</text>
<text x="258.48" y="403.80" font-size="11.00" fill="#262626">60</text>
<text x="317.17" y="465.00" font-size="11.00" fill="#262626">50</text>
<text x="370.31" y="465.00" font-size="11.00" fill="#262626">60</text>
<text x="423.81" y="465.00" font-size="11.00" fill="#262626">70</text>
<text x="329.13" y="479.00" font-size="12.60" font-style="italic" fill="#262626" textLength="39.40" lengthAdjust="spacingAndGlyphs">SALVE</text>
<text x="368.97" y="481.00" font-size="9.00" font-style="italic" fill="#262626" textLength="19.15" lengthAdjust="spacingAndGlyphs">Test</text>
<g transform="rotate(-90)"><text x="-439.71" y="253.00" font-size="12.60" font-style="italic" fill="#262626" textLength="42.93" lengthAdjust="spacingAndGlyphs">SALVE</text><text x="-398.17" y="256.90" font-size="9.00" font-style="italic" fill="#262626" textLength="21.19" lengthAdjust="spacingAndGlyphs">Train</text></g>
<text x="297.36" y="361.80" font-size="12.20" font-style="italic" fill="#262626" textLength="5.33" lengthAdjust="spacingAndGlyphs">r</text><rect x="306.20" y="355.90" width="7.9" height="1.15" fill="#262626"/><rect x="306.20" y="358.80" width="7.9" height="1.15" fill="#262626"/><text x="317.79" y="361.80" font-size="12.10" fill="#262626" textLength="104.12" lengthAdjust="spacingAndGlyphs">0.73, CI [0.63, 0.8]</text>
<rect x="504.4" y="365.5" width="165.50" height="86.10" fill="#E8EAF2"/>
<g stroke="#fff" stroke-width="1"><line x1="507.60" y1="365.5" x2="507.60" y2="451.6"/><line x1="589.40" y1="365.5" x2="589.40" y2="451.6"/><line x1="504.4" y1="433.00" x2="669.9" y2="433.00"/><line x1="504.4" y1="404.50" x2="669.9" y2="404.50"/><line x1="504.4" y1="375.10" x2="669.9" y2="375.10"/></g>
<path d="M511,430.2 C540,421 570,414 590,406 C615,396 640,385 662.3,375.1 L662.3,403 C640,408 615,414 590,419.6 C570,425 540,435 511,447.6 Z" fill="#A9A9A9" fill-opacity="0.22"/>
<g fill="#A9A9A9" stroke="#fff" stroke-width="0.3" stroke-opacity="0.6"><circle cx="511.0" cy="428.4" r="1.8"/><circle cx="528.2" cy="416.6" r="1.8"/><circle cx="534.4" cy="421.3" r="1.8"/><circle cx="543.5" cy="430.2" r="1.8"/><circle cx="549.8" cy="426.0" r="1.8"/><circle cx="550.9" cy="432.8" r="1.8"/><circle cx="556.0" cy="421.5" r="1.8"/><circle cx="568.4" cy="427.2" r="1.8"/><circle cx="569.8" cy="423.4" r="1.8"/><circle cx="575.4" cy="423.0" r="1.8"/><circle cx="586.7" cy="430.2" r="1.8"/><circle cx="603.4" cy="392.0" r="1.8"/><circle cx="606.4" cy="421.5" r="1.8"/><circle cx="606.7" cy="431.3" r="1.8"/><circle cx="613.2" cy="371.3" r="1.8"/><circle cx="622.4" cy="430.4" r="1.8"/><circle cx="628.6" cy="375.9" r="1.8"/><circle cx="646.8" cy="369.4" r="1.8"/><circle cx="648.0" cy="413.8" r="1.8"/><circle cx="648.9" cy="384.9" r="1.8"/><circle cx="660.0" cy="382.2" r="1.8"/><circle cx="662.3" cy="386.4" r="1.8"/></g>
<line x1="511" y1="437.8" x2="662.3" y2="387.6" stroke="#8c8c8c" stroke-width="1.1"/>
<text x="486.43" y="437.24" font-size="11.00" fill="#262626">55</text>
<text x="486.38" y="408.50" font-size="11.00" fill="#262626">60</text>
<text x="486.43" y="379.19" font-size="11.00" fill="#262626">65</text>
<text x="501.47" y="466.10" font-size="11.00" fill="#262626">50</text>
<text x="583.41" y="466.10" font-size="11.00" fill="#262626">60</text>
<text x="560.38" y="479.60" font-size="12.80" fill="#262626" textLength="52.34" lengthAdjust="spacingAndGlyphs">Be-MoVe</text>
<g transform="rotate(-90)"><text x="-434.71" y="480.80" font-size="12.60" font-style="italic" fill="#262626" textLength="42.93" lengthAdjust="spacingAndGlyphs">SALVE</text><text x="-390.95" y="482.60" font-size="9.00" font-style="italic" fill="#262626" textLength="7.69" lengthAdjust="spacingAndGlyphs">All</text></g>
<text x="521.76" y="361.80" font-size="12.20" font-style="italic" fill="#262626" textLength="5.33" lengthAdjust="spacingAndGlyphs">r</text><rect x="530.60" y="355.90" width="7.9" height="1.15" fill="#262626"/><rect x="530.60" y="358.80" width="7.9" height="1.15" fill="#262626"/><text x="542.19" y="361.80" font-size="12.10" fill="#262626" textLength="111.14" lengthAdjust="spacingAndGlyphs">0.68, CI [0.37, 0.86]</text>
<rect x="47.1" y="510.7" width="166.50" height="86.70" fill="#E8EAF2"/>
<g stroke="#fff" stroke-width="1"><line x1="96.60" y1="510.7" x2="96.60" y2="597.4"/><line x1="159.70" y1="510.7" x2="159.70" y2="597.4"/><line x1="47.1" y1="553.30" x2="213.6" y2="553.30"/></g>
<g fill="#76767A" stroke="#EAEAF2" stroke-opacity="0.55" stroke-width="0.9"><rect x="54.55" y="594.10" width="5.02" height="3.30"/><rect x="59.57" y="592.50" width="5.02" height="4.90"/><rect x="64.59" y="588.00" width="5.02" height="9.40"/><rect x="69.61" y="582.70" width="5.02" height="14.70"/><rect x="74.63" y="569.90" width="5.02" height="27.50"/><rect x="79.65" y="547.70" width="5.02" height="49.70"/><rect x="84.67" y="540.50" width="5.02" height="56.90"/><rect x="89.69" y="526.90" width="5.02" height="70.50"/><rect x="94.71" y="519.00" width="5.02" height="78.40"/><rect x="99.73" y="514.10" width="5.02" height="83.30"/><rect x="104.75" y="547.70" width="5.02" height="49.70"/><rect x="109.77" y="542.00" width="5.02" height="55.40"/><rect x="114.79" y="562.80" width="5.02" height="34.60"/><rect x="119.81" y="568.80" width="5.02" height="28.60"/><rect x="124.83" y="568.80" width="5.02" height="28.60"/><rect x="129.85" y="576.80" width="5.02" height="20.60"/><rect x="134.87" y="579.40" width="5.02" height="18.00"/><rect x="139.89" y="585.10" width="5.02" height="12.30"/><rect x="144.91" y="590.30" width="5.02" height="7.10"/><rect x="149.93" y="591.90" width="5.02" height="5.50"/><rect x="154.95" y="593.40" width="5.02" height="4.00"/><rect x="159.97" y="593.80" width="5.02" height="3.60"/><rect x="164.99" y="594.60" width="5.02" height="2.80"/><rect x="170.01" y="595.30" width="5.02" height="2.10"/><rect x="175.03" y="595.90" width="5.02" height="1.50"/><rect x="180.05" y="596.20" width="5.02" height="1.20"/><rect x="185.07" y="596.30" width="5.02" height="1.10"/><rect x="190.09" y="596.30" width="5.02" height="1.10"/><rect x="195.11" y="596.30" width="5.02" height="1.10"/><rect x="200.13" y="596.30" width="5.02" height="1.10"/></g>
<path d="M54.50,594.80 C55.35,594.38 57.83,593.30 59.60,592.30 C61.37,591.30 63.40,590.27 65.10,588.80 C66.80,587.33 68.20,585.88 69.80,583.50 C71.40,581.12 72.97,578.90 74.70,574.50 C76.43,570.10 78.50,561.63 80.20,557.10 C81.90,552.57 83.30,550.95 84.90,547.30 C86.50,543.65 88.15,538.52 89.80,535.20 C91.45,531.88 93.32,529.08 94.80,527.40 C96.28,525.72 97.37,525.18 98.70,525.10 C100.03,525.02 101.25,525.22 102.80,526.90 C104.35,528.58 106.38,532.30 108.00,535.20 C109.62,538.10 110.85,540.92 112.50,544.30 C114.15,547.68 116.27,552.62 117.90,555.50 C119.53,558.38 120.95,559.63 122.30,561.60 C123.65,563.57 124.72,565.60 126.00,567.30 C127.28,569.00 128.48,569.92 130.00,571.80 C131.52,573.68 132.98,576.27 135.10,578.60 C137.22,580.93 140.18,583.85 142.70,585.80 C145.22,587.75 147.68,589.22 150.20,590.30 C152.72,591.38 155.28,591.75 157.80,592.30 C160.32,592.85 162.78,593.17 165.30,593.60 C167.82,594.03 170.38,594.52 172.90,594.90 C175.42,595.28 176.63,595.63 180.40,595.90 C184.17,596.17 191.17,596.37 195.50,596.50 C199.83,596.63 204.58,596.67 206.40,596.70" fill="none" stroke="#111" stroke-width="1.25"/>
<text x="35.88" y="601.69" font-size="11.00" fill="#262626">0</text>
<text x="29.78" y="557.69" font-size="11.00" fill="#262626">50</text>
<text x="93.72" y="611.19" font-size="11.00" fill="#262626">0</text>
<text x="153.31" y="611.19" font-size="11.00" fill="#262626">20</text>
<g transform="rotate(-90)"><text x="-571.02" y="25.40" font-size="12.60" fill="#262626" textLength="32.92" lengthAdjust="spacingAndGlyphs">Count</text></g>
<text x="74.43" y="624.80" font-size="12.60" fill="#262626" textLength="39.57" lengthAdjust="spacingAndGlyphs">SALVE</text>
<text x="115.68" y="624.80" font-size="12.60" fill="#262626" textLength="8.43" lengthAdjust="spacingAndGlyphs">−</text>
<text x="124.98" y="624.80" font-size="12.60" fill="#262626" textLength="61.24" lengthAdjust="spacingAndGlyphs">Noise Map</text>
<rect x="276.6" y="510.7" width="165.30" height="84.90" fill="#E8EAF2"/>
<g stroke="#fff" stroke-width="1"><line x1="290.40" y1="510.7" x2="290.40" y2="595.6"/><line x1="344.10" y1="510.7" x2="344.10" y2="595.6"/><line x1="398.80" y1="510.7" x2="398.80" y2="595.6"/><line x1="276.6" y1="547.50" x2="441.9" y2="547.50"/></g>
<g fill="url(#hB)" stroke="#D8D9DF" stroke-width="0.75"><rect x="283.90" y="585.98" width="7.55" height="9.62"/><rect x="291.45" y="585.98" width="7.55" height="9.62"/><rect x="299.00" y="571.55" width="7.55" height="24.05"/><rect x="306.55" y="576.36" width="7.55" height="19.24"/><rect x="314.10" y="537.88" width="7.55" height="57.72"/><rect x="321.65" y="552.31" width="7.55" height="43.29"/><rect x="329.20" y="537.88" width="7.55" height="57.72"/><rect x="336.75" y="547.50" width="7.55" height="48.10"/><rect x="344.30" y="513.83" width="7.55" height="81.77"/><rect x="351.85" y="533.07" width="7.55" height="62.53"/><rect x="359.40" y="547.50" width="7.55" height="48.10"/><rect x="366.95" y="552.31" width="7.55" height="43.29"/><rect x="374.50" y="561.93" width="7.55" height="33.67"/><rect x="382.05" y="585.98" width="7.55" height="9.62"/><rect x="389.60" y="590.79" width="7.55" height="4.81"/><rect x="397.15" y="590.79" width="7.55" height="4.81"/><rect x="412.25" y="590.79" width="7.55" height="4.81"/><rect x="427.35" y="590.79" width="7.55" height="4.81"/></g>
<path d="M283.90,590.30 C284.85,589.80 287.38,588.68 289.60,587.30 C291.82,585.92 294.68,584.38 297.20,582.00 C299.72,579.62 302.18,576.27 304.70,573.00 C307.22,569.73 309.78,565.93 312.30,562.40 C314.82,558.87 317.28,554.57 319.80,551.80 C322.32,549.03 324.87,547.55 327.40,545.80 C329.93,544.05 332.48,543.07 335.00,541.30 C337.52,539.53 340.25,536.65 342.50,535.20 C344.75,533.75 346.42,532.72 348.50,532.60 C350.58,532.48 352.65,532.80 355.00,534.50 C357.35,536.20 360.08,539.42 362.60,542.80 C365.12,546.18 367.58,550.53 370.10,554.80 C372.62,559.07 375.18,564.12 377.70,568.40 C380.22,572.68 382.68,577.22 385.20,580.50 C387.72,583.78 390.28,586.28 392.80,588.10 C395.32,589.92 397.78,590.60 400.30,591.40 C402.82,592.20 405.38,592.52 407.90,592.90 C410.42,593.28 412.88,593.50 415.40,593.70 C417.92,593.90 419.80,593.98 423.00,594.10 C426.20,594.22 432.67,594.35 434.60,594.40" fill="none" stroke="#3a3a3a" stroke-width="1.1"/>
<text x="264.58" y="600.29" font-size="11.00" fill="#262626">0</text>
<text x="258.48" y="551.79" font-size="11.00" fill="#262626">10</text>
<text x="281.00" y="609.09" font-size="11.00" fill="#262626">−10</text>
<text x="341.42" y="609.09" font-size="11.00" fill="#262626">0</text>
<text x="392.38" y="609.09" font-size="11.00" fill="#262626">10</text>
<g transform="rotate(-90)"><text x="-570.63" y="254.60" font-size="12.60" fill="#262626" textLength="33.74" lengthAdjust="spacingAndGlyphs">Count</text></g>
<text x="290.34" y="623.80" font-size="12.60" font-style="italic" fill="#262626" textLength="38.19" lengthAdjust="spacingAndGlyphs">SALVE</text>
<text x="329.56" y="625.60" font-size="9.00" font-style="italic" fill="#262626" textLength="19.46" lengthAdjust="spacingAndGlyphs">Test</text>
<text x="353.34" y="623.80" font-size="12.60" fill="#262626" textLength="9.99" lengthAdjust="spacingAndGlyphs">−</text>
<text x="365.43" y="623.80" font-size="12.60" font-style="italic" fill="#262626" textLength="38.59" lengthAdjust="spacingAndGlyphs">SALVE</text>
<text x="404.62" y="625.60" font-size="9.00" font-style="italic" fill="#262626" textLength="24.07" lengthAdjust="spacingAndGlyphs">Train</text>
<rect x="504.2" y="510.7" width="166.00" height="84.90" fill="#E8EAF2"/>
<g stroke="#fff" stroke-width="1"><line x1="515.60" y1="510.7" x2="515.60" y2="595.6"/><line x1="569.15" y1="510.7" x2="569.15" y2="595.6"/><line x1="622.70" y1="510.7" x2="622.70" y2="595.6"/><line x1="504.2" y1="526.60" x2="670.2" y2="526.60"/><line x1="504.2" y1="561.60" x2="670.2" y2="561.60"/></g>
<g fill="url(#hC)" stroke="#EEEFF3" stroke-width="0.8"><rect x="511.30" y="567.60" width="15.1" height="28.00"/><rect x="526.40" y="567.60" width="15.1" height="28.00"/><rect x="556.60" y="511.60" width="15.1" height="84.00"/><rect x="571.70" y="539.60" width="15.1" height="56.00"/><rect x="601.90" y="567.60" width="15.1" height="28.00"/><rect x="617.00" y="553.60" width="15.1" height="42.00"/><rect x="632.10" y="581.60" width="15.1" height="14.00"/><rect x="647.20" y="567.60" width="15.1" height="28.00"/></g>
<path d="M511.30,582.00 C512.68,581.25 516.45,579.25 519.60,577.50 C522.75,575.75 526.67,573.15 530.20,571.50 C533.73,569.85 537.53,568.98 540.80,567.60 C544.07,566.22 546.53,564.48 549.80,563.20 C553.07,561.92 557.12,560.57 560.40,559.90 C563.68,559.23 566.48,559.17 569.50,559.20 C572.52,559.23 574.98,559.43 578.50,560.10 C582.02,560.77 587.02,562.32 590.60,563.20 C594.18,564.08 596.73,564.53 600.00,565.40 C603.27,566.27 605.98,567.38 610.20,568.40 C614.42,569.42 620.27,570.23 625.30,571.50 C630.33,572.77 635.37,574.50 640.40,576.00 C645.43,577.50 651.85,579.42 655.50,580.50 C659.15,581.58 661.17,582.17 662.30,582.50" fill="none" stroke="#8a8a8a" stroke-width="1.0"/>
<text x="483.40" y="600.09" font-size="11.00" fill="#262626">0.0</text>
<text x="483.45" y="565.69" font-size="11.00" fill="#262626">2.5</text>
<text x="483.40" y="530.79" font-size="11.00" fill="#262626">5.0</text>
<text x="509.07" y="609.54" font-size="11.00" fill="#262626">−5</text>
<text x="565.52" y="609.59" font-size="11.00" fill="#262626">0</text>
<text x="619.55" y="609.54" font-size="11.00" fill="#262626">5</text>
<g transform="rotate(-90)"><text x="-570.03" y="478.70" font-size="12.60" fill="#262626" textLength="33.43" lengthAdjust="spacingAndGlyphs">Count</text></g>
<text x="528.87" y="623.40" font-size="12.60" fill="#262626" textLength="52.95" lengthAdjust="spacingAndGlyphs">Be-MoVe</text>
<text x="582.86" y="623.40" font-size="12.60" fill="#262626" textLength="9.75" lengthAdjust="spacingAndGlyphs">−</text>
<text x="593.14" y="623.40" font-size="12.60" font-style="italic" fill="#262626" textLength="37.99" lengthAdjust="spacingAndGlyphs">SALVE</text>
<text x="633.38" y="625.00" font-size="9.00" font-style="italic" fill="#262626" textLength="10.69" lengthAdjust="spacingAndGlyphs">All</text>
</svg></body></html>
